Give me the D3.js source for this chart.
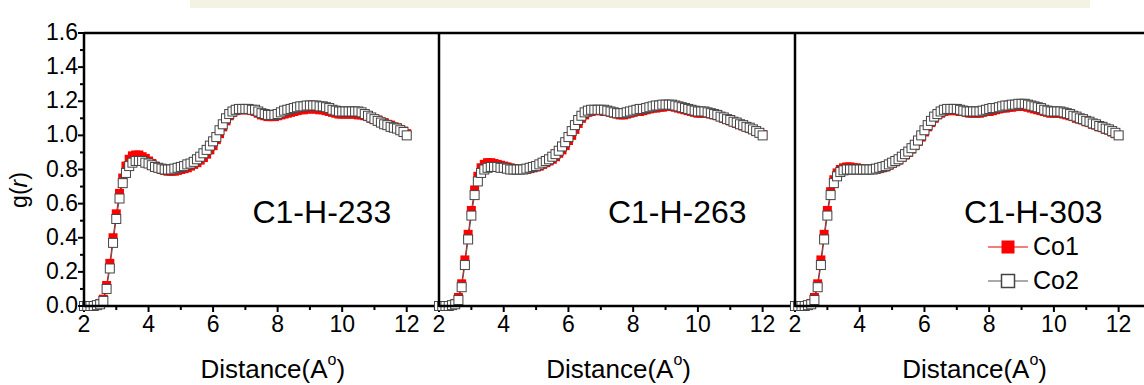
<!DOCTYPE html>
<html><head><meta charset="utf-8">
<script src="https://cdn.jsdelivr.net/npm/d3@7"></script>
<style>
html,body{margin:0;padding:0;background:#fff;}
svg{display:block;font-family:"Liberation Sans",Arial,sans-serif;}
</style></head>
<body><svg id="chart" width="1144" height="385"></svg>
<script>
const distance = [2.0,2.1,2.2,2.3,2.4,2.5,2.6,2.7,2.8,2.9,3.0,3.1,3.2,3.3,3.4,3.5,3.6,3.7,3.8,3.9,4.0,4.1,4.2,4.3,4.4,4.5,4.6,4.7,4.8,4.9,5.0,5.1,5.2,5.3,5.4,5.5,5.6,5.7,5.8,5.9,6.0,6.1,6.2,6.3,6.4,6.5,6.6,6.7,6.8,6.9,7.0,7.1,7.2,7.3,7.4,7.5,7.6,7.7,7.8,7.9,8.0,8.1,8.2,8.3,8.4,8.5,8.6,8.7,8.8,8.9,9.0,9.1,9.2,9.3,9.4,9.5,9.6,9.7,9.8,9.9,10.0,10.1,10.2,10.3,10.4,10.5,10.6,10.7,10.8,10.9,11.0,11.1,11.2,11.3,11.4,11.5,11.6,11.7,11.8,11.9,12.0];

const co1_233 = [0,0,0,0,0.005,0.015,0.04,0.12,0.25,0.40,0.54,0.66,0.75,0.82,0.86,0.88,0.885,0.885,0.875,0.865,0.85,0.835,0.82,0.81,0.80,0.795,0.79,0.79,0.79,0.795,0.80,0.805,0.81,0.82,0.83,0.84,0.855,0.87,0.89,0.915,0.94,0.975,1.01,1.05,1.085,1.115,1.135,1.145,1.15,1.15,1.15,1.15,1.145,1.14,1.13,1.12,1.115,1.11,1.11,1.11,1.115,1.12,1.125,1.13,1.135,1.14,1.145,1.15,1.15,1.155,1.155,1.155,1.155,1.15,1.15,1.145,1.14,1.135,1.13,1.125,1.125,1.125,1.125,1.125,1.125,1.12,1.12,1.115,1.11,1.10,1.095,1.09,1.08,1.075,1.065,1.06,1.05,1.045,1.035,1.025,1.01];
const co2_233 = [0,0,0,0,0.005,0.01,0.03,0.10,0.22,0.37,0.51,0.63,0.72,0.78,0.82,0.84,0.85,0.85,0.85,0.84,0.835,0.825,0.815,0.81,0.805,0.80,0.80,0.80,0.805,0.81,0.815,0.82,0.83,0.835,0.845,0.86,0.875,0.895,0.915,0.94,0.965,0.99,1.03,1.065,1.10,1.125,1.14,1.15,1.155,1.155,1.155,1.155,1.15,1.15,1.14,1.13,1.125,1.12,1.12,1.12,1.125,1.135,1.145,1.15,1.155,1.16,1.165,1.17,1.17,1.175,1.175,1.175,1.175,1.17,1.17,1.165,1.16,1.15,1.145,1.14,1.14,1.14,1.14,1.14,1.14,1.14,1.135,1.125,1.115,1.105,1.095,1.085,1.075,1.065,1.06,1.05,1.045,1.04,1.03,1.02,1.00];

const co1_263 = [0,0,0,0,0.005,0.015,0.05,0.13,0.27,0.42,0.56,0.68,0.76,0.81,0.83,0.84,0.84,0.835,0.83,0.825,0.82,0.815,0.81,0.805,0.80,0.80,0.80,0.80,0.805,0.81,0.815,0.82,0.83,0.84,0.85,0.86,0.875,0.895,0.915,0.94,0.97,1.00,1.035,1.07,1.10,1.12,1.135,1.14,1.145,1.145,1.145,1.14,1.14,1.135,1.13,1.125,1.12,1.12,1.125,1.13,1.135,1.14,1.14,1.145,1.15,1.155,1.16,1.16,1.165,1.165,1.17,1.17,1.17,1.165,1.16,1.155,1.15,1.145,1.14,1.135,1.13,1.13,1.13,1.13,1.125,1.12,1.115,1.11,1.10,1.095,1.085,1.08,1.07,1.065,1.055,1.05,1.04,1.035,1.025,1.015,1.005];
const co2_263 = [0,0,0,0,0.005,0.01,0.035,0.11,0.24,0.39,0.53,0.65,0.73,0.78,0.80,0.81,0.815,0.815,0.815,0.81,0.81,0.805,0.80,0.80,0.80,0.80,0.80,0.805,0.81,0.815,0.82,0.83,0.84,0.85,0.86,0.875,0.89,0.91,0.935,0.96,0.99,1.025,1.06,1.09,1.115,1.135,1.145,1.15,1.15,1.15,1.15,1.15,1.145,1.14,1.135,1.13,1.13,1.13,1.135,1.14,1.145,1.15,1.155,1.155,1.16,1.165,1.17,1.175,1.175,1.18,1.18,1.18,1.18,1.175,1.17,1.165,1.16,1.155,1.15,1.145,1.14,1.14,1.14,1.135,1.13,1.125,1.12,1.11,1.105,1.095,1.09,1.08,1.075,1.065,1.06,1.05,1.045,1.035,1.025,1.015,1.00];

const co1_303 = [0,0,0,0,0.005,0.015,0.05,0.13,0.27,0.42,0.56,0.67,0.74,0.78,0.80,0.81,0.815,0.815,0.81,0.81,0.805,0.80,0.80,0.80,0.80,0.80,0.805,0.81,0.815,0.825,0.835,0.845,0.855,0.87,0.885,0.90,0.92,0.94,0.965,0.99,1.02,1.05,1.075,1.10,1.12,1.13,1.14,1.145,1.145,1.145,1.145,1.14,1.14,1.135,1.13,1.13,1.13,1.13,1.135,1.14,1.14,1.145,1.15,1.155,1.16,1.16,1.165,1.165,1.17,1.17,1.17,1.17,1.165,1.16,1.155,1.15,1.145,1.14,1.135,1.13,1.13,1.13,1.13,1.125,1.12,1.115,1.11,1.10,1.095,1.09,1.08,1.075,1.065,1.06,1.05,1.045,1.035,1.03,1.02,1.01,1.00];
const co2_303 = [0,0,0,0,0.005,0.01,0.035,0.11,0.24,0.39,0.53,0.65,0.72,0.76,0.785,0.795,0.80,0.80,0.80,0.80,0.80,0.80,0.80,0.80,0.80,0.805,0.81,0.815,0.82,0.83,0.84,0.85,0.86,0.875,0.89,0.905,0.925,0.945,0.97,1.00,1.03,1.06,1.085,1.11,1.125,1.14,1.15,1.155,1.155,1.155,1.155,1.15,1.145,1.14,1.14,1.14,1.14,1.14,1.145,1.15,1.155,1.16,1.16,1.165,1.17,1.175,1.175,1.18,1.18,1.185,1.185,1.185,1.18,1.175,1.17,1.165,1.16,1.15,1.145,1.14,1.14,1.14,1.14,1.135,1.13,1.125,1.115,1.11,1.10,1.095,1.085,1.08,1.07,1.065,1.055,1.05,1.04,1.035,1.025,1.015,1.00];

const panelLabels = ["C1-H-233","C1-H-263","C1-H-303"];
const seriesNames = ["Co1","Co2"];
const yTicks = [0.0,0.2,0.4,0.6,0.8,1.0,1.2,1.4,1.6];
const xTicks = [2,4,6,8,10,12];

const panels = [
  {label: panelLabels[0], co1: co1_233, co2: co2_233, x0: 84, x1: 439, titleAt: 7.85},
  {label: panelLabels[1], co1: co1_263, co2: co2_263, x0: 439, x1: 795, titleAt: 7.55},
  {label: panelLabels[2], co1: co1_303, co2: co2_303, x0: 795, x1: 1151, titleAt: 7.55}
];

const svg = d3.select("#chart");
const yTop = 33, yBot = 306;
const y = d3.scaleLinear().domain([0, 1.6]).range([yBot, yTop]);
const TICKFONT = 23;

svg.append("rect").attr("x", 190).attr("y", 0).attr("width", 900).attr("height", 8)
  .attr("fill", "#eeeed8").attr("opacity", 0.7);

panels.forEach((p, i) => {
  const x = d3.scaleLinear().domain([2, 13]).range([p.x0, p.x1]);
  const g = svg.append("g");

  const minorX = [3,5,7,9,11];
  g.selectAll(".xmaj").data(xTicks).join("line")
    .attr("x1", d => x(d)).attr("x2", d => x(d)).attr("y1", yBot).attr("y2", yBot + 6)
    .attr("stroke", "#000").attr("stroke-width", 2);
  g.selectAll(".xmin").data(minorX).join("line")
    .attr("x1", d => x(d)).attr("x2", d => x(d)).attr("y1", yBot).attr("y2", yBot + 4)
    .attr("stroke", "#000").attr("stroke-width", 2);
  g.selectAll(".xlab").data(xTicks).join("text")
    .attr("x", d => x(d)).attr("y", yBot + 26).attr("text-anchor", "middle")
    .attr("font-size", TICKFONT).attr("fill", "#000").text(d => d);

  const xt = g.append("text").attr("x", x(p.titleAt)).attr("y", 378).attr("text-anchor", "middle")
    .attr("font-size", 26).attr("fill", "#000");
  xt.append("tspan").text("Distance(A");
  xt.append("tspan").attr("font-size", 16).attr("dy", -13).text("o");
  xt.append("tspan").attr("dy", 13).text(")");

  const line = d3.line().x((d, k) => x(distance[k])).y(d => y(d));
  g.append("path").datum(p.co1).attr("d", line).attr("fill", "none").attr("stroke", "#e00000").attr("stroke-width", 1);
  g.append("path").datum(p.co2).attr("d", line).attr("fill", "none").attr("stroke", "#555").attr("stroke-width", 1);
  const s = 9;
  g.selectAll(".m1").data(p.co1).join("rect")
    .attr("x", (d, k) => x(distance[k]) - s/2).attr("y", d => y(d) - s/2)
    .attr("width", s).attr("height", s).attr("fill", "#ff0000").attr("stroke", "none");
  g.selectAll(".m2").data(p.co2).join("rect")
    .attr("x", (d, k) => x(distance[k]) - s/2).attr("y", d => y(d) - s/2)
    .attr("width", s).attr("height", s).attr("fill", "#fff").attr("stroke", "#444").attr("stroke-width", 1);

  g.append("text").attr("x", x(7.22)).attr("y", 223).attr("font-size", 32).attr("fill", "#000").text(p.label);

  g.append("line").attr("x1", p.x0).attr("x2", Math.min(p.x1, 1144)).attr("y1", yTop).attr("y2", yTop)
    .attr("stroke", "#000").attr("stroke-width", 2.5);
  g.append("line").attr("x1", p.x0).attr("x2", Math.min(p.x1, 1144)).attr("y1", yBot).attr("y2", yBot)
    .attr("stroke", "#000").attr("stroke-width", 2.5);
  g.append("line").attr("x1", p.x0).attr("x2", p.x0).attr("y1", yTop - 1).attr("y2", yBot + 1)
    .attr("stroke", "#000").attr("stroke-width", 2.5);
});

const gy = svg.append("g");
const ax0 = panels[0].x0;
const minorY = [0.1,0.3,0.5,0.7,0.9,1.1,1.3,1.5];
gy.selectAll(".ymaj").data(yTicks).join("line")
  .attr("x1", ax0 - 6).attr("x2", ax0).attr("y1", d => y(d)).attr("y2", d => y(d))
  .attr("stroke", "#000").attr("stroke-width", 2);
gy.selectAll(".ymin").data(minorY).join("line")
  .attr("x1", ax0 - 4).attr("x2", ax0).attr("y1", d => y(d)).attr("y2", d => y(d))
  .attr("stroke", "#000").attr("stroke-width", 2);
gy.selectAll(".ylab").data(yTicks).join("text")
  .attr("x", ax0 - 6).attr("y", d => y(d) + 7).attr("text-anchor", "end")
  .attr("font-size", TICKFONT).attr("fill", "#000").text(d => d.toFixed(1));

const yt = svg.append("text").attr("transform", "translate(27,190) rotate(-90)")
  .attr("text-anchor", "middle").attr("font-size", 23).attr("fill", "#000");
yt.append("tspan").text("g(");
yt.append("tspan").attr("font-style", "italic").text("r");
yt.append("tspan").text(")");

const lg = svg.append("g");
const legendItems = [
  {name: seriesNames[0], fill: "#ff0000", stroke: "none", line: "#e00000", yy: 247},
  {name: seriesNames[1], fill: "#fff", stroke: "#444", line: "#555", yy: 281}
];
legendItems.forEach(it => {
  lg.append("line").attr("x1", 988).attr("x2", 1028).attr("y1", it.yy).attr("y2", it.yy)
    .attr("stroke", it.line).attr("stroke-width", 1);
  lg.append("rect").attr("x", 1001.5).attr("y", it.yy - 6.5).attr("width", 13).attr("height", 13)
    .attr("fill", it.fill).attr("stroke", it.stroke).attr("stroke-width", 1.5);
  lg.append("text").attr("x", 1033).attr("y", it.yy + 8).attr("font-size", 25).attr("fill", "#000").text(it.name);
});
</script></body></html>
